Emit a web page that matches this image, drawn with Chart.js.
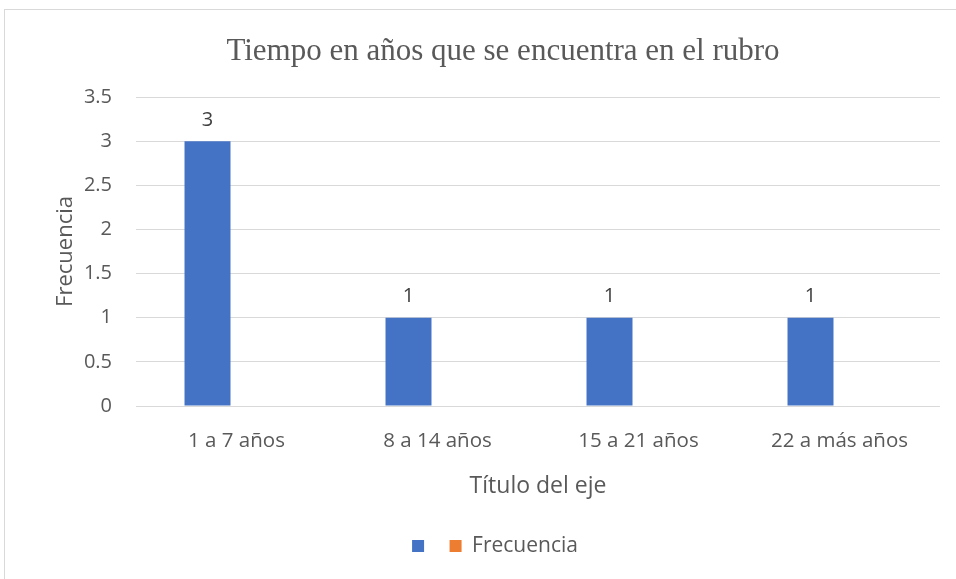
<!DOCTYPE html>
<html>
<head>
<meta charset="utf-8">
<script src="https://cdn.jsdelivr.net/npm/chart.js@4.4.1/dist/chart.umd.min.js"></script>
<style>
  html, body { margin: 0; padding: 0; background: #ffffff; overflow: hidden; width: 956px; height: 579px; }
  #frame { position: absolute; left: 4px; top: 9px; width: 1000px; height: 575px; border-top: 1px solid #d9d9d9; border-left: 1px solid #d9d9d9; }
  #wrap { position: absolute; left: 0; top: 0; width: 998px; height: 569px; }
</style>
</head>
<body>
<div id="frame"><div id="wrap"><canvas id="c"></canvas></div></div>
<script>
const categories = ['1 a 7 años', '8 a 14 años', '15 a 21 años', '22 a más años'];
const serie1Values = [3, 1, 1, 1];
const frecuenciaValues = [null, null, null, null];
const seriesNames = ['', 'Frecuencia'];
const yTickLabels = ['0', '0.5', '1', '1.5', '2', '2.5', '3', '3.5'];
const chartTitle = 'Tiempo en años que se encuentra en el rubro';
const xAxisTitle = 'Título del eje';
const yAxisTitle = 'Frecuencia';

const TXT = '#595959';
const SANS = '"Open Sans", "Noto Sans", sans-serif';

const dataLabels = {
  id: 'dataLabels',
  afterDatasetsDraw(chart) {
    const ctx = chart.ctx;
    const meta = chart.getDatasetMeta(0);
    ctx.save();
    ctx.font = '20px ' + SANS;
    ctx.fillStyle = '#404040';
    ctx.textAlign = 'center';
    ctx.textBaseline = 'middle';
    meta.data.forEach((bar, i) => {
      const v = chart.data.datasets[0].data[i];
      if (v === null || v === undefined) return;
      ctx.fillText(String(v), bar.x, bar.y - 21);
    });
    ctx.restore();
  }
};

const legendShift = {
  id: 'legendShift',
  afterLayout(chart) {
    if (chart.legend) {
      chart.legend.left -= 8;
      chart.legend.right -= 8;
    }
  }
};

new Chart(document.getElementById('c'), {
  type: 'bar',
  data: {
    labels: categories,
    datasets: [
      { label: seriesNames[0], data: serie1Values, backgroundColor: '#4472C4', categoryPercentage: 0.577, barPercentage: 0.793 },
      { label: seriesNames[1], data: frecuenciaValues, backgroundColor: '#ED7D31', categoryPercentage: 0.577, barPercentage: 0.793 }
    ]
  },
  options: {
    responsive: true,
    maintainAspectRatio: false,
    animation: false,
    layout: { padding: { left: 61, right: 63, top: 0, bottom: 12.5 } },
    plugins: {
      title: {
        display: true,
        text: chartTitle,
        color: TXT,
        font: { family: '"Liberation Serif", "Times New Roman", serif', size: 31, weight: 'normal', lineHeight: 1.2 },
        padding: { top: 23.4, bottom: 26.4 }
      },
      legend: {
        display: true,
        position: 'bottom',
        labels: {
          color: TXT,
          font: { family: SANS, size: 21 },
          boxWidth: 12,
          boxHeight: 12,
          padding: 15
        }
      },
      tooltip: { enabled: false }
    },
    scales: {
      x: {
        grid: { display: false, drawTicks: false },
        border: { display: false },
        ticks: { color: TXT, font: { family: SANS, size: 20.5 }, padding: 23, maxRotation: 0 },
        title: { display: true, text: xAxisTitle, color: TXT, font: { family: SANS, size: 23, lineHeight: 1.2 }, padding: { top: 0, bottom: 20.7 } },
        afterFit(scale) { scale.height = 114.5; }
      },
      y: {
        min: 0,
        max: 3.5,
        grid: { color: '#d9d9d9', lineWidth: 1, drawTicks: false },
        border: { display: false },
        ticks: {
          stepSize: 0.5, color: TXT, font: { family: SANS, size: 20 }, padding: 24,
          callback: (value, index) => yTickLabels[index]
        },
        title: { display: true, text: yAxisTitle, color: TXT, font: { family: SANS, size: 22, lineHeight: 1.2 }, padding: { top: -13.2, bottom: 0 } },
        afterFit(scale) { scale.width = 70; }
      }
    }
  },
  plugins: [dataLabels, legendShift]
});
</script>
</body>
</html>
